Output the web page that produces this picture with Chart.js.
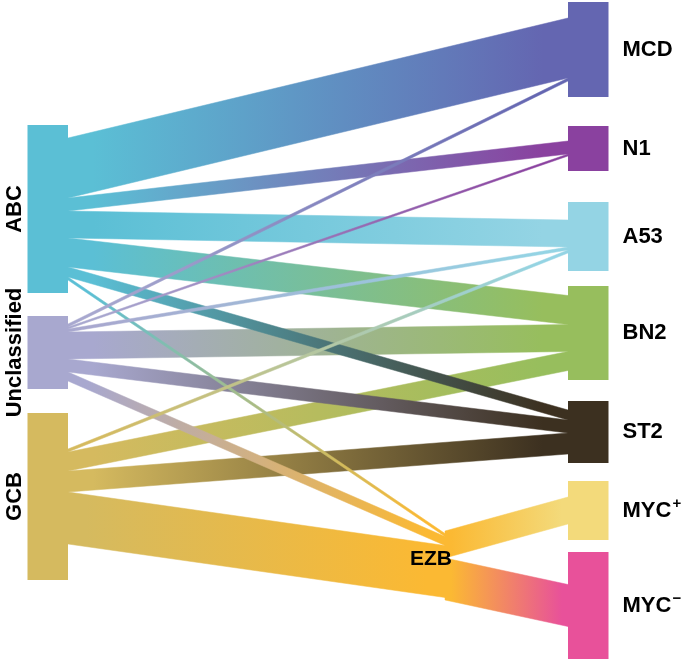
<!DOCTYPE html>
<html>
<head>
<meta charset="utf-8">
<script src="https://cdn.jsdelivr.net/npm/chart.js@4.4.1/dist/chart.umd.min.js"></script>
<style>
    html, body { margin: 0; padding: 0; background: #fff; }
    #wrap { width: 685px; height: 662px; }
</style>
</head>
<body>
<div id="wrap"><canvas id="sankey"></canvas></div>
<script>
// nodes, per column
const sourceNodes = ['ABC', 'Unclassified', 'GCB'];
const middleNodes = ['EZB'];
const targetNodes = ['MCD', 'N1', 'A53', 'BN2', 'ST2', 'MYC+', 'MYC-'];

// node box sizes (same units as the flows)
const sourceSizes = [168, 73, 167];
const targetSizes = [95, 45, 69, 94, 62, 59, 107];

// flows
const flowFrom = ['ABC', 'ABC', 'ABC', 'ABC', 'ABC', 'ABC',
    'Unclassified', 'Unclassified', 'Unclassified', 'Unclassified', 'Unclassified', 'Unclassified',
    'GCB', 'GCB', 'GCB', 'GCB',
    'EZB', 'EZB'];
const flowTo = ['MCD', 'N1', 'A53', 'BN2', 'ST2', 'EZB',
    'MCD', 'N1', 'A53', 'BN2', 'ST2', 'EZB',
    'A53', 'BN2', 'ST2', 'EZB',
    'MYC+', 'MYC-'];
const flowValue = [60, 13, 27, 29, 10, 3,
    3, 2, 3, 27, 13, 9,
    3, 19, 21, 52,
    27, 42];

const nodeColors = {
    'ABC': '#5bbfd5',
    'Unclassified': '#a8a8cf',
    'GCB': '#d5ba5f',
    'EZB': '#fbb933',
    'MCD': '#6466b1',
    'N1': '#8a419f',
    'A53': '#94d4e4',
    'BN2': '#97be5d',
    'ST2': '#3c3020',
    'MYC+': '#f3da7b',
    'MYC-': '#e8519a'
};

// layout (x in column units, y in flow units)
const layout = {
    xMin: -0.136,
    xMax: 1.234,
    yMax: 662,
    nodeWidth: 0.081,
    sourceX: 0,
    middleX: 0.754,
    targetX: 1,
    sourceTop: 125,
    sourceGaps: [0, 23, 24],
    targetTop: 2,
    targetGaps: [0, 29, 31, 15, 21, 18, 12],
    middleTop: 531
};

const order = ['ABC', 'Unclassified', 'GCB', 'MCD', 'N1', 'A53', 'BN2', 'ST2', 'EZB', 'MYC+', 'MYC-'];
const FONT = '"Liberation Sans", Arial, sans-serif';

function buildNodes() {
    const nodes = {};
    let top = layout.sourceTop;
    sourceNodes.forEach((name, i) => {
        top += layout.sourceGaps[i];
        nodes[name] = { name, col: 0, x0: layout.sourceX - layout.nodeWidth, x1: layout.sourceX, top, size: sourceSizes[i] };
        top += sourceSizes[i];
    });
    top = layout.targetTop;
    targetNodes.forEach((name, i) => {
        top += layout.targetGaps[i];
        nodes[name] = { name, col: 2, x0: layout.targetX, x1: layout.targetX + layout.nodeWidth, top, size: targetSizes[i] };
        top += targetSizes[i];
    });
    middleNodes.forEach(name => {
        nodes[name] = { name, col: 1, x0: layout.middleX, x1: layout.middleX, top: layout.middleTop, size: 0 };
    });

    const flows = flowValue.map((v, i) => ({ from: flowFrom[i], to: flowTo[i], value: v }));

    Object.values(nodes).forEach(node => {
        const outs = flows.filter(f => f.from === node.name)
            .sort((a, b) => order.indexOf(a.to) - order.indexOf(b.to));
        const ins = flows.filter(f => f.to === node.name)
            .sort((a, b) => order.indexOf(a.from) - order.indexOf(b.from));
        const sumOut = outs.reduce((s, f) => s + f.value, 0);
        const sumIn = ins.reduce((s, f) => s + f.value, 0);
        if (node.col === 1) node.size = Math.max(sumIn, sumOut);

        // stack flows in the middle of the box
        let y0 = node.top + (node.size - sumOut) / 2;
        outs.forEach(f => { f.ys0 = y0; f.ys1 = y0 + f.value; y0 += f.value; });
        y0 = node.top + (node.size - sumIn) / 2;
        ins.forEach(f => { f.yt0 = y0; f.yt1 = y0 + f.value; y0 += f.value; });
    });

    return { nodes, flows };
}

const sankeyPlugin = {
    id: 'sankey',
    afterDatasetsDraw(chart) {
        const ctx = chart.ctx;
        const x = chart.scales.x;
        const y = chart.scales.y;
        const { nodes, flows } = buildNodes();

        // flows, big ones first so thin lines stay visible
        flows.slice().sort((a, b) => b.value - a.value).forEach(f => {
            const src = nodes[f.from];
            const tgt = nodes[f.to];
            const xs = x.getPixelForValue(src.x1);
            const xt = x.getPixelForValue(tgt.x0);
            const grad = ctx.createLinearGradient(xs, 0, xt, 0);
            grad.addColorStop(0.05, nodeColors[f.from]);
            grad.addColorStop(0.95, nodeColors[f.to]);
            ctx.save();
            ctx.beginPath();
            ctx.moveTo(xs, y.getPixelForValue(f.ys0));
            ctx.lineTo(xt, y.getPixelForValue(f.yt0));
            ctx.lineTo(xt, y.getPixelForValue(f.yt1));
            ctx.lineTo(xs, y.getPixelForValue(f.ys1));
            ctx.closePath();
            ctx.fillStyle = grad;
            ctx.fill();
            ctx.strokeStyle = grad;
            ctx.lineWidth = 0.5;
            ctx.stroke();
            ctx.restore();
        });

        // node boxes
        Object.values(nodes).forEach(node => {
            if (node.col === 1) return;
            const px0 = x.getPixelForValue(node.x0);
            const px1 = x.getPixelForValue(node.x1);
            const py0 = y.getPixelForValue(node.top);
            const py1 = y.getPixelForValue(node.top + node.size);
            ctx.fillStyle = nodeColors[node.name];
            ctx.fillRect(px0, py0, px1 - px0, py1 - py0);
        });

        // labels
        ctx.save();
        ctx.fillStyle = '#000';
        ctx.textBaseline = 'middle';
        Object.values(nodes).forEach(node => {
            const cy = y.getPixelForValue(node.top + node.size / 2);
            ctx.font = 'bold 22px ' + FONT;
            if (node.col === 0) {
                ctx.save();
                ctx.translate(x.getPixelForValue(node.x0) - 14, cy);
                ctx.rotate(-Math.PI / 2);
                ctx.textAlign = 'center';
                ctx.fillText(node.name, 0, 1);
                ctx.restore();
            } else if (node.col === 1) {
                ctx.font = 'bold 21px ' + FONT;
                ctx.textAlign = 'center';
                ctx.fillText(node.name, x.getPixelForValue(node.x0) - 14, cy - 6);
            } else {
                const lx = x.getPixelForValue(node.x1) + 14;
                ctx.textAlign = 'left';
                const m = node.name.match(/^(.*?)([+-])$/);
                if (m) {
                    ctx.fillText(m[1], lx, cy);
                    const w = ctx.measureText(m[1]).width;
                    ctx.font = 'bold 15px ' + FONT;
                    ctx.fillText(m[2] === '+' ? '+' : '\u2212', lx + w + 1, cy - 7);
                } else {
                    ctx.fillText(node.name, lx, cy);
                }
            }
        });
        ctx.restore();
    }
};

new Chart(document.getElementById('sankey'), {
    type: 'scatter',
    data: { datasets: [{ data: [], pointRadius: 0 }] },
    options: {
        responsive: true,
        maintainAspectRatio: false,
        animation: false,
        events: [],
        layout: { padding: 0 },
        plugins: {
            legend: { display: false },
            tooltip: { enabled: false }
        },
        scales: {
            x: { type: 'linear', min: layout.xMin, max: layout.xMax, display: false },
            y: { type: 'linear', min: 0, max: layout.yMax, reverse: true, display: false }
        }
    },
    plugins: [sankeyPlugin]
});
</script>
</body>
</html>
